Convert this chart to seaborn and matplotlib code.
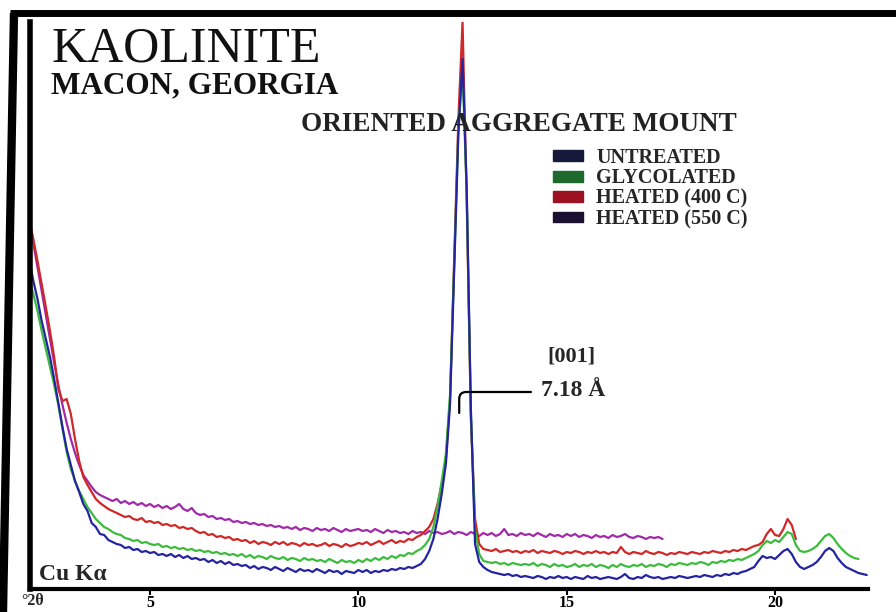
import numpy as np
import pandas as pd
import matplotlib
matplotlib.use("Agg")
import matplotlib.pyplot as plt
import seaborn as sns
from matplotlib.patches import Patch
from matplotlib.lines import Line2D

# ---------------- data ----------------
scan_start = 2.1      # deg 2-theta of first reading
scan_step = 0.1       # deg 2-theta between readings

untreated = [
    330, 308, 290, 268, 250, 232, 210, 186, 162, 140,
    124, 108, 97, 85, 78, 66, 62, 55, 54, 49,
    47, 45, 44, 41, 42, 39, 40, 37, 38, 36,
    37, 34, 35, 33, 35, 32, 34, 31, 33, 30,
    31, 29, 30, 27, 29, 26, 28, 25, 27, 24,
    25, 23, 24, 21, 23, 20, 22, 21, 19, 22,
    20, 18, 21, 19, 17, 20, 18, 19, 17, 20,
    18, 16, 19, 17, 18, 15, 18, 17, 16, 19,
    17, 19, 16, 18, 17, 19, 18, 20, 19, 21,
    20, 22, 21, 23, 25, 30, 38, 50, 70, 95,
    125, 185, 320, 455, 530, 400, 180, 45, 27, 22,
    19, 17, 16, 15, 14, 15, 13, 14, 12, 13,
    12, 11, 13, 12, 10, 12, 11, 13, 11, 12,
    10, 12, 11, 10, 13, 11, 12, 10, 11, 12,
    11, 10, 12, 15, 11, 10, 12, 11, 14, 12,
    11, 12, 10, 11, 12, 11, 13, 12, 11, 12,
    13, 12, 14, 13, 12, 14, 13, 15, 14, 16,
    15, 17, 18, 20, 22, 28, 33, 31, 32, 30,
    34, 38, 40, 35, 27, 22, 20, 22, 24, 27,
    32, 38, 41, 38, 31, 26, 22, 20, 18, 16,
    15, 14,
]

glycolated = [
    310, 295, 278, 258, 240, 222, 204, 184, 160, 137,
    120, 108, 98, 90, 82, 76, 70, 66, 62, 60,
    57, 55, 54, 51, 50, 48, 49, 46, 47, 45,
    44, 45, 42, 43, 41, 42, 40, 41, 39, 40,
    38, 39, 37, 38, 36, 37, 35, 36, 34, 35,
    33, 35, 32, 34, 31, 33, 32, 30, 33, 31,
    30, 32, 29, 31, 30, 28, 31, 29, 30, 28,
    29, 27, 30, 28, 26, 29, 27, 28, 26, 29,
    27, 30, 28, 31, 29, 32, 30, 33, 31, 34,
    33, 36, 35, 38, 40, 44, 50, 62, 82, 108,
    135, 195, 325, 460, 520, 395, 175, 60, 35, 28,
    27, 26, 27, 25, 26, 24, 26, 25, 24, 25,
    24, 26, 23, 25, 24, 22, 25, 23, 24, 22,
    23, 25, 22, 24, 23, 25, 22, 24, 23, 21,
    24, 22, 25, 23, 22, 24, 23, 25, 22, 24,
    23, 25, 24, 22, 25, 24, 26, 25, 24, 26,
    25, 27, 26, 24, 27, 26, 28, 27, 29, 28,
    30, 29, 31, 33, 35, 38, 44, 48, 46, 49,
    47, 52, 57, 55, 44, 38, 37, 38, 40, 43,
    48, 53, 55, 51, 45, 40, 36, 33, 31, 30,
]

heated_400 = [
    370, 350, 328, 305, 282, 258, 232, 200, 188, 190,
    175, 150, 128, 112, 104, 97, 90, 86, 83, 80,
    78, 76, 74, 72, 73, 70, 69, 71, 67, 68,
    66, 67, 64, 65, 63, 64, 61, 62, 60, 61,
    58, 56, 57, 54, 55, 52, 53, 51, 52, 49,
    50, 48, 49, 46, 48, 45, 47, 46, 44, 47,
    45, 47, 44, 46, 45, 43, 46, 44, 45, 43,
    44, 46, 43, 45, 44, 42, 45, 43, 44, 46,
    45, 47, 44, 46, 48, 45, 47, 49, 46, 48,
    47, 50, 49, 52, 54, 58, 62, 70, 85, 105,
    130, 190, 330, 470, 567, 390, 170, 70, 45, 40,
    39, 38, 40, 37, 38, 39, 37, 38, 36, 38,
    37, 39, 36, 38, 37, 36, 38, 37, 35, 37,
    36, 38, 37, 35, 37, 36, 38, 36, 37, 35,
    37, 36, 42, 37, 35, 37, 36, 35, 38, 36,
    35, 37, 36, 34, 36, 35, 37, 36, 35, 37,
    36, 35, 37, 36, 38, 37, 36, 38, 37, 39,
    38, 40, 39, 41, 43, 44, 47, 55, 60, 54,
    53, 60, 70, 64, 50,
]

heated_550 = [
    365, 345, 322, 298, 274, 250, 226, 204, 184, 166,
    150, 136, 124, 114, 108, 102, 97, 94, 92, 90,
    88, 90, 86, 88, 85, 87, 84, 86, 83, 85,
    82, 84, 81, 83, 80, 82, 85, 80, 78, 81,
    76, 74, 75, 72, 73, 70, 71, 69, 70, 67,
    68, 66, 67, 65, 66, 64, 65, 63, 64, 62,
    63, 61, 62, 60, 62, 59, 61, 60, 58, 61,
    59, 60, 58, 61, 59, 57, 60, 58, 59, 60,
    58, 59, 57, 60, 58, 56, 59, 57, 58, 56,
    57, 55, 58, 56, 57, 55, 58, 56, 57, 55,
    56, 58, 55, 57, 56, 54, 57, 55, 53, 56,
    54, 56, 53, 55, 60, 54, 55, 53, 56, 54,
    55, 53, 56, 54, 52, 55, 53, 54, 52, 55,
    53, 55, 52, 54, 53, 51, 54, 52, 53, 51,
    54, 52, 53, 55, 52, 51, 53, 52, 50, 52,
    51, 52, 50,
]

series_names = ["UNTREATED", "GLYCOLATED", "HEATED (400 C)", "HEATED (550 C)"]
series_values = [untreated, glycolated, heated_400, heated_550]
line_colors = ["#2424a0", "#3cbc3c", "#d02828", "#a02aa8"]
legend_colors = ["#151a3c", "#1e6a2c", "#9c1222", "#1b1030"]
draw_order = ["HEATED (550 C)", "HEATED (400 C)", "GLYCOLATED", "UNTREATED"]
x_ticks = [5, 10, 15, 20]
x_tick_labels = ["5", "10", "15", "20"]

# ---------------- build long table ----------------
frames = []
for name, vals in zip(series_names, series_values):
    tt = np.round(scan_start + scan_step * np.arange(len(vals)), 2)
    frames.append(pd.DataFrame({"two_theta": tt, "intensity": vals, "treatment": name}))
df = pd.concat(frames, ignore_index=True)

# ---------------- figure ----------------
sns.set_theme(style="white")
plt.rcParams["font.family"] = ["Liberation Serif", "DejaVu Serif"]

W, H = 896, 612
fig = plt.figure(figsize=(W / 100, H / 100), dpi=100)
fig.patch.set_facecolor("white")


def fx(px):
    return px / W


def fy(py):
    return 1 - py / H


AX_BOTTOM = 589
ax = fig.add_axes([fx(30), fy(AX_BOTTOM), (868 - 30) / W, (AX_BOTTOM - 22) / H])
sns.lineplot(
    data=df, x="two_theta", y="intensity", hue="treatment",
    hue_order=draw_order, palette=dict(zip(series_names, line_colors)),
    estimator=None, sort=False, linewidth=1.6, legend=False, ax=ax,
)

ax.set_xlim(2.12, 22.23)
ax.set_ylim(0, 567)
ax.set_facecolor("white")
ax.grid(False)
ax.set_xlabel("")
ax.set_ylabel("")
ax.set_yticks([])
for s in ["top", "right"]:
    ax.spines[s].set_visible(False)
ax.spines["left"].set_linewidth(4)
ax.spines["bottom"].set_linewidth(3)
ax.spines["left"].set_color("black")
ax.spines["bottom"].set_color("black")
ax.set_xticks(x_ticks)
ax.set_xticklabels(x_tick_labels, fontsize=11.5, fontweight="bold")
ax.tick_params(axis="x", direction="out", length=4, width=1.5, pad=0,
               colors="black", bottom=True)

# ---------------- texts ----------------
fig.text(fx(51), fy(49), "KAOLINITE", fontsize=36, va="center", ha="left",
         color="#111111")
fig.text(fx(51), fy(86), "MACON, GEORGIA", fontsize=22.5, fontweight="bold",
         va="center", ha="left", color="#111111")
fig.text(fx(301), fy(125), "ORIENTED AGGREGATE MOUNT", fontsize=19.5,
         fontweight="bold", va="center", ha="left", color="#222222")

handles = [Patch(facecolor=c, edgecolor=c, label=n)
           for n, c in zip(series_names, legend_colors)]
ax.legend(handles=handles, loc="upper left", bbox_to_anchor=(fx(553), fy(148)),
          bbox_transform=fig.transFigure, frameon=False,
          prop={"weight": "bold", "size": 14.5}, handlelength=1.5,
          handleheight=0.45, handletextpad=0.65, labelspacing=0.02,
          borderpad=0, borderaxespad=0)

fig.text(fx(547), fy(357), "[001]", fontsize=16, fontweight="bold",
         va="center", ha="left")
fig.text(fx(541), fy(390), "7.18 Å", fontsize=17, fontweight="bold",
         va="center", ha="left")
ax.annotate("", xy=(12.42, 176), xycoords="data",
            xytext=(531, H - 392), textcoords="figure pixels",
            arrowprops=dict(arrowstyle="-", color="black", lw=1.6,
                            connectionstyle="angle,angleA=0,angleB=90,rad=7",
                            shrinkA=0, shrinkB=0))

fig.text(fx(39), fy(575), "Cu Kα", fontsize=17, fontweight="bold",
         va="center", ha="left")
fig.text(fx(21), fy(593), "°2θ", fontsize=11.5, fontweight="bold",
         va="top", ha="left")

# outer frame of the scanned figure
fig.add_artist(Line2D([fx(14), fx(3)], [fy(13), 0], transform=fig.transFigure,
                      lw=6, color="black", solid_capstyle="butt"))
fig.add_artist(Line2D([fx(10), 1], [fy(13), fy(13)], transform=fig.transFigure,
                      lw=5, color="black", solid_capstyle="butt"))

fig.savefig("out.png", dpi=100, facecolor="white")
